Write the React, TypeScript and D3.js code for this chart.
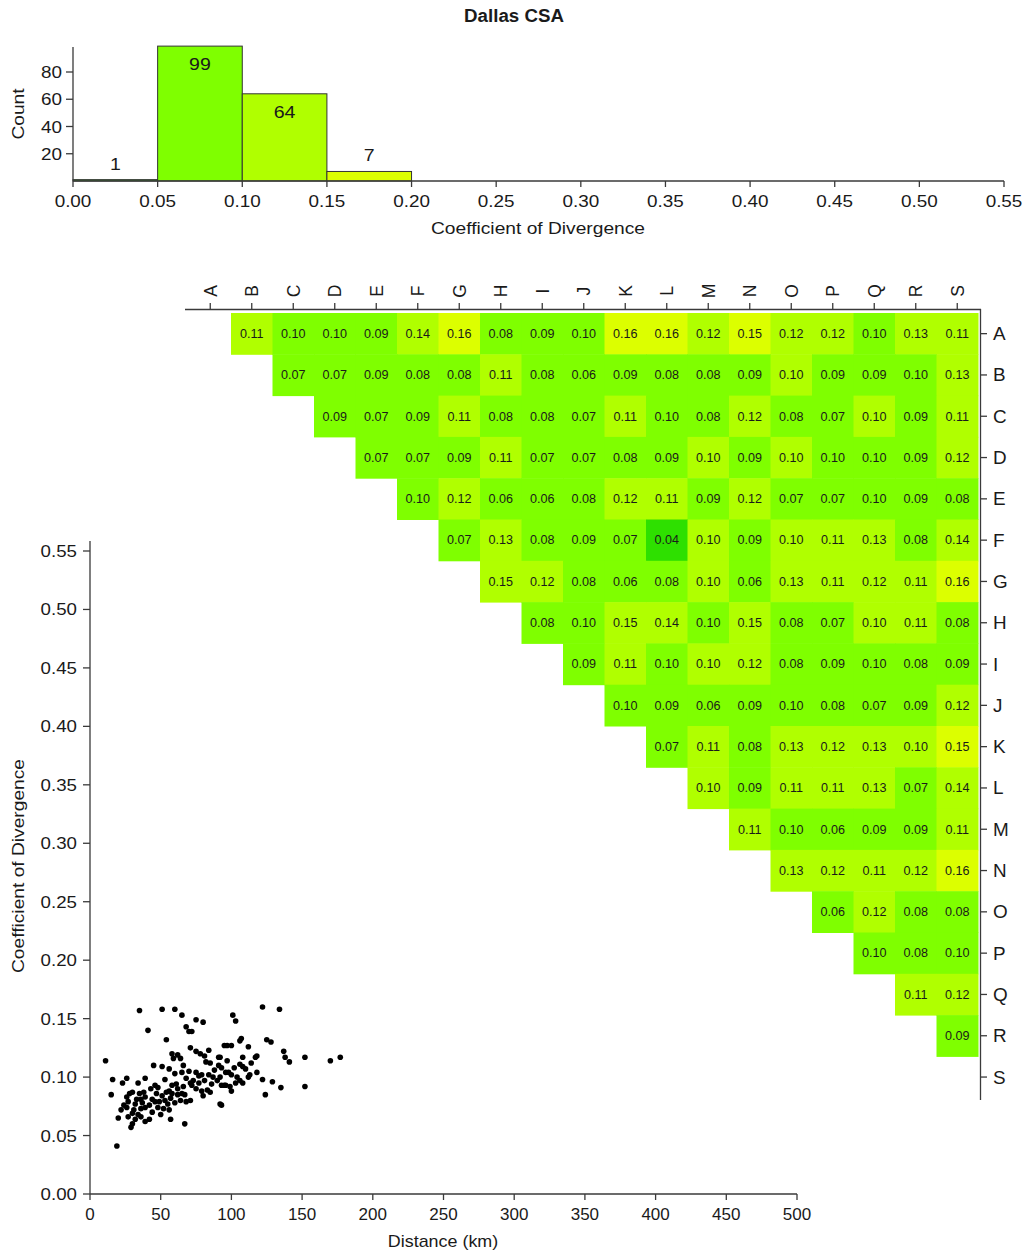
import React from "react";
import * as d3 from "d3";

const TITLE = "Dallas CSA";
const LETTERS = ["A","B","C","D","E","F","G","H","I","J","K","L","M","N","O","P","Q","R","S"];

// Upper-triangle coefficient-of-divergence values: row i holds columns i+1..S
const rowA = [0.11, 0.098, 0.098, 0.09, 0.14, 0.16, 0.08, 0.09, 0.098, 0.16, 0.16, 0.12, 0.152, 0.12, 0.12, 0.098, 0.13, 0.11];
const rowB = [0.07, 0.07, 0.09, 0.08, 0.08, 0.11, 0.08, 0.06, 0.09, 0.08, 0.08, 0.09, 0.101, 0.09, 0.09, 0.098, 0.13];
const rowC = [0.09, 0.07, 0.09, 0.11, 0.08, 0.08, 0.07, 0.11, 0.098, 0.08, 0.12, 0.08, 0.07, 0.101, 0.09, 0.11];
const rowD = [0.07, 0.07, 0.09, 0.11, 0.07, 0.07, 0.08, 0.09, 0.101, 0.09, 0.101, 0.098, 0.098, 0.09, 0.12];
const rowE = [0.098, 0.12, 0.06, 0.06, 0.08, 0.12, 0.11, 0.09, 0.12, 0.07, 0.07, 0.098, 0.09, 0.08];
const rowF = [0.07, 0.13, 0.08, 0.09, 0.07, 0.04, 0.101, 0.09, 0.101, 0.11, 0.13, 0.08, 0.14];
const rowG = [0.148, 0.12, 0.08, 0.06, 0.08, 0.101, 0.06, 0.13, 0.11, 0.12, 0.11, 0.16];
const rowH = [0.08, 0.098, 0.148, 0.14, 0.098, 0.148, 0.08, 0.07, 0.101, 0.11, 0.08];
const rowI = [0.09, 0.11, 0.098, 0.101, 0.12, 0.08, 0.09, 0.098, 0.08, 0.09];
const rowJ = [0.098, 0.09, 0.06, 0.09, 0.098, 0.08, 0.07, 0.09, 0.12];
const rowK = [0.07, 0.11, 0.08, 0.13, 0.12, 0.13, 0.101, 0.152];
const rowL = [0.101, 0.09, 0.11, 0.11, 0.13, 0.07, 0.14];
const rowM = [0.11, 0.098, 0.06, 0.09, 0.09, 0.11];
const rowN = [0.13, 0.12, 0.11, 0.12, 0.16];
const rowO = [0.06, 0.12, 0.08, 0.08];
const rowP = [0.098, 0.08, 0.098];
const rowQ = [0.11, 0.12];
const rowR = [0.09];
const matrixRows = [rowA, rowB, rowC, rowD, rowE, rowF, rowG, rowH, rowI, rowJ, rowK, rowL, rowM, rowN, rowO, rowP, rowQ, rowR];

// Scatter: [distance km, COD]
const scatterPoints: [number, number][] = [
  [35,0.157],[51,0.158],[60,0.158],[65,0.153],[75,0.149],[80,0.147],[68,0.143],[70,0.139],[72,0.139],[41,0.140],
  [54,0.132],[97,0.127],[71,0.125],[75,0.122],[78,0.120],[84,0.123],[81,0.118],[91,0.117],[58,0.120],[62,0.119],
  [64,0.116],[59,0.116],[11,0.114],[82,0.113],[45,0.110],[51,0.109],[56,0.107],[91,0.110],[93,0.108],[65,0.104],
  [70,0.105],[75,0.104],[77,0.101],[79,0.102],[84,0.102],[87,0.100],[90,0.097],[16,0.098],[23,0.095],[26,0.099],
  [34,0.095],[39,0.099],[46,0.093],[48,0.091],[58,0.093],[62,0.090],[68,0.099],[71,0.095],[72,0.093],[73,0.097],
  [75,0.090],[79,0.088],[83,0.089],[85,0.087],[93,0.093],[96,0.093],[15,0.085],[28,0.086],[30,0.087],[26,0.083],
  [35,0.086],[38,0.087],[39,0.083],[36,0.081],[47,0.086],[51,0.084],[54,0.087],[56,0.088],[58,0.086],[62,0.085],
  [65,0.086],[67,0.085],[64,0.080],[68,0.079],[71,0.080],[24,0.076],[26,0.074],[22,0.072],[32,0.077],[36,0.073],
  [39,0.074],[42,0.076],[46,0.079],[48,0.074],[52,0.073],[56,0.072],[20,0.065],[30,0.069],[32,0.064],[30,0.060],
  [29,0.057],[39,0.062],[42,0.064],[57,0.064],[67,0.060],[92,0.077],[19,0.041],
  [122,0.160],[134,0.158],[101,0.153],[103,0.148],[107,0.133],[106,0.131],[125,0.132],[128,0.130],[95,0.127],[100,0.127],
  [112,0.126],[92,0.117],[108,0.117],[117,0.117],[137,0.122],[138,0.117],[141,0.113],[152,0.117],[170,0.114],[177,0.117],
  [106,0.111],[108,0.109],[110,0.107],[97,0.114],[98,0.104],[100,0.102],[92,0.100],[118,0.104],[113,0.102],[112,0.100],
  [122,0.098],[106,0.097],[103,0.095],[108,0.095],[129,0.096],[95,0.093],[99,0.092],[135,0.091],[152,0.092],[124,0.085],
  [93,0.076],
  [27,0.079],[33,0.081],[37,0.078],[44,0.081],[49,0.079],[53,0.080],[57,0.082],[60,0.078],[31,0.072],[34,0.068],
  [44,0.070],[50,0.068],[27,0.066],[36,0.066],[61,0.094],[66,0.092],[77,0.095],[81,0.097],[86,0.094],[88,0.106],
  [96,0.104],[102,0.108],[104,0.100],[114,0.112],[85,0.112],[66,0.110],[60,0.103],[53,0.098],[43,0.090],[55,0.077],
  [80,0.084],[100,0.088],[118,0.118]
];

const histXTicks = [0, 0.05, 0.10, 0.15, 0.20, 0.25, 0.30, 0.35, 0.40, 0.45, 0.50, 0.55];
const histThresholds = [0.05, 0.10, 0.15, 0.20, 0.25, 0.30, 0.35, 0.40, 0.45, 0.50];
const histYTicks = [20, 40, 60, 80];
const scatXTicks = [0, 50, 100, 150, 200, 250, 300, 350, 400, 450, 500];
const scatYTicks = [0, 0.05, 0.10, 0.15, 0.20, 0.25, 0.30, 0.35, 0.40, 0.45, 0.50, 0.55];
const binColors = ["#2ee000", "#7fff00", "#b0ff00", "#dcff00"];
const colorBreaks = [0.05, 0.10, 0.15];

const FONT = '"Liberation Sans", Arial, Helvetica, sans-serif';
const AX = "#3a3a3a";

function T({ x, y, size, sx = 1, anchor = "middle", rot = 0, weight = "normal", fill = "#1a1a1a", children }: any) {
  return (
    <text
      transform={`translate(${x},${y}) rotate(${rot}) scale(${sx},1)`}
      fontSize={size}
      textAnchor={anchor}
      fontWeight={weight}
      fill={fill}
      fontFamily={FONT}
    >
      {children}
    </text>
  );
}

export default function App() {
  const color = d3.scaleThreshold<number, string>().domain(colorBreaks).range(binColors);

  // histogram
  const allValues = matrixRows.flat();
  const hx = d3.scaleLinear().domain([0, 0.55]).range([73, 1004]);
  const hy = d3.scaleLinear().domain([0, 80]).range([181, 72]);
  const bins = d3.bin().domain([0, 0.55]).thresholds(histThresholds)(allValues);

  // matrix
  const mx = d3.scaleBand<string>().domain(LETTERS).range([189.5, 978]);
  const my = d3.scaleBand<string>().domain(LETTERS).range([313, 1097.7]);
  const cells: { r: string; c: string; v: number }[] = [];
  matrixRows.forEach((row, i) => {
    row.forEach((v, k) => {
      cells.push({ r: LETTERS[i], c: LETTERS[i + 1 + k], v });
    });
  });

  // scatter
  const sx = d3.scaleLinear().domain([0, 500]).range([90, 797]);
  const sy = d3.scaleLinear().domain([0, 0.55]).range([1194, 551]);

  return (
    <svg
      width={1029}
      height={1254}
      style={{ position: "absolute", left: 0, top: 0, background: "#fff" }}
    >
      <rect x={0} y={0} width={1029} height={1254} fill="#fff" />
      <T x={514} y={22} size={17.5} sx={1.07} weight="bold">{TITLE}</T>

      {/* Histogram */}
      {bins.filter((b) => b.length > 0).map((b, i) => {
        const x0 = hx(b.x0 as number);
        const x1 = hx(b.x1 as number);
        const yTop = hy(b.length);
        const mid = ((b.x0 as number) + (b.x1 as number)) / 2;
        const inside = b.length > 20;
        return (
          <g key={"b" + i}>
            <rect x={x0} y={yTop} width={x1 - x0} height={181 - yTop} fill={color(mid)} stroke="#333" strokeWidth={1} />
            <T x={(x0 + x1) / 2} y={inside ? yTop + 24 : yTop - 10} size={17} sx={1.15}>{String(b.length)}</T>
          </g>
        );
      })}
      <line x1={73} x2={1004} y1={181} y2={181} stroke={AX} strokeWidth={1.3} />
      <line x1={73} x2={73} y1={181} y2={47} stroke={AX} strokeWidth={1.3} />
      {histXTicks.map((t) => (
        <g key={"hx" + t}>
          <line x1={hx(t)} x2={hx(t)} y1={181} y2={187} stroke={AX} strokeWidth={1.3} />
          <T x={hx(t)} y={207} size={16} sx={1.18}>{t.toFixed(2)}</T>
        </g>
      ))}
      {histYTicks.map((t) => (
        <g key={"hy" + t}>
          <line x1={66} x2={73} y1={hy(t)} y2={hy(t)} stroke={AX} strokeWidth={1.3} />
          <T x={62} y={hy(t) + 6} size={16} sx={1.18} anchor="end">{String(t)}</T>
        </g>
      ))}
      <T x={538} y={234} size={16} sx={1.2}>Coefficient of Divergence</T>
      <T x={24} y={114} size={16} sx={1.2} rot={-90}>Count</T>

      {/* Matrix */}
      {cells.map((d, i) => (
        <rect key={"c" + i} x={mx(d.c)} y={my(d.r)} width={mx.bandwidth() + 0.5} height={my.bandwidth() + 0.5} fill={color(d.v)} />
      ))}
      {cells.map((d, i) => (
        <T key={"t" + i} x={(mx(d.c) as number) + mx.bandwidth() / 2} y={(my(d.r) as number) + my.bandwidth() / 2 + 4.3} size={12} sx={1.05}>
          {d.v.toFixed(2)}
        </T>
      ))}
      <line x1={185} x2={981} y1={309.5} y2={309.5} stroke={AX} strokeWidth={1.3} />
      <line x1={980.5} x2={980.5} y1={309} y2={1100} stroke={AX} strokeWidth={1.3} />
      {LETTERS.map((l) => {
        const cx = (mx(l) as number) + mx.bandwidth() / 2;
        return (
          <g key={"col" + l}>
            <line x1={cx} x2={cx} y1={303} y2={309.5} stroke={AX} strokeWidth={1.3} />
            <T x={cx + 6.5} y={291} size={17.5} rot={-90}>{l}</T>
          </g>
        );
      })}
      {LETTERS.map((l) => {
        const cy = (my(l) as number) + my.bandwidth() / 2;
        return (
          <g key={"row" + l}>
            <line x1={980.5} x2={987} y1={cy} y2={cy} stroke={AX} strokeWidth={1.3} />
            <T x={993} y={cy + 6.5} size={18} sx={1.05} anchor="start">{l}</T>
          </g>
        );
      })}

      {/* Scatter */}
      <line x1={90} x2={797} y1={1194} y2={1194} stroke={AX} strokeWidth={1.3} />
      <line x1={90} x2={90} y1={1194} y2={541} stroke={AX} strokeWidth={1.3} />
      {scatXTicks.map((t) => (
        <g key={"sx" + t}>
          <line x1={sx(t)} x2={sx(t)} y1={1194} y2={1200} stroke={AX} strokeWidth={1.3} />
          <T x={sx(t)} y={1220} size={17} sx={1.0}>{String(t)}</T>
        </g>
      ))}
      {scatYTicks.map((t) => (
        <g key={"sy" + t}>
          <line x1={83} x2={90} y1={sy(t)} y2={sy(t)} stroke={AX} strokeWidth={1.3} />
          <T x={77} y={sy(t) + 6} size={17} sx={1.1} anchor="end">{t.toFixed(2)}</T>
        </g>
      ))}
      <T x={443} y={1247} size={16} sx={1.12}>Distance (km)</T>
      <T x={24} y={866} size={16} sx={1.2} rot={-90}>Coefficient of Divergence</T>
      {scatterPoints.map((p, i) => (
        <circle key={"p" + i} cx={sx(p[0])} cy={sy(p[1])} r={2.8} fill="#000" />
      ))}
    </svg>
  );
}
